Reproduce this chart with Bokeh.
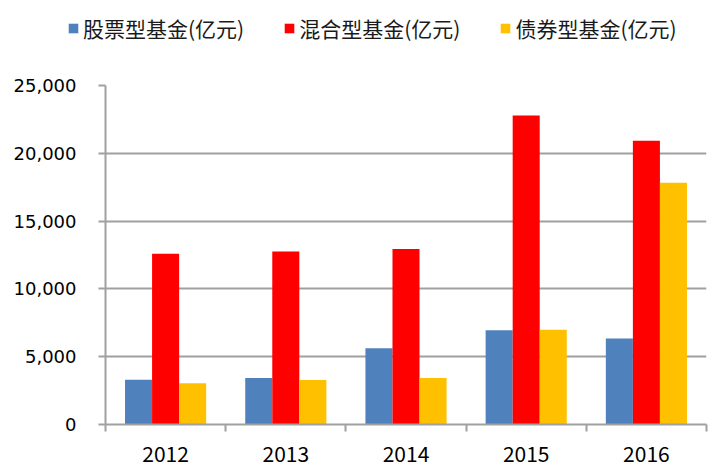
from bokeh.plotting import figure
from bokeh.layouts import column
from bokeh.models import (ColumnDataSource, Range1d, FixedTicker, NumeralTickFormatter,
                          Legend, LegendItem)
from bokeh.transform import dodge
from bokeh.embed import file_html
from bokeh.resources import INLINE

years = ["2012", "2013", "2014", "2015", "2016"]
stock = [3300, 3420, 5620, 6950, 6350]
mixed = [12600, 12750, 12950, 22780, 20930]
bond = [3050, 3280, 3420, 6990, 17830]
series_names = ["股票型基金(亿元)", "混合型基金(亿元)", "债券型基金(亿元)"]
colors = ["#4F81BD", "#FF0000", "#FFC000"]
y_ticks = [0, 5000, 10000, 15000, 20000, 25000]

xc = [i + 0.5 for i in range(len(years))]
src = ColumnDataSource(dict(x=xc, stock=stock, mixed=mixed, bond=bond))

TOTAL_W = 721
LEG_H = 50

# ---- main chart ----
p = figure(output_backend="svg", toolbar_location=None,
           frame_width=601, frame_height=339,
           min_border_left=105, min_border_right=15, min_border_top=85 - LEG_H,
           min_border_bottom=48,
           x_range=Range1d(0, len(years)), y_range=Range1d(0, 25000))
p.outline_line_color = None
p.background_fill_color = "white"

bw = 0.225
p.vbar(x=dodge("x", -bw, range=p.x_range), top="stock", width=bw, source=src,
       fill_color=colors[0], line_color=None)
p.vbar(x=dodge("x", 0, range=p.x_range), top="mixed", width=bw, source=src,
       fill_color=colors[1], line_color=None)
p.vbar(x=dodge("x", bw, range=p.x_range), top="bond", width=bw, source=src,
       fill_color=colors[2], line_color=None)

gray = "#A0A0A0"
p.yaxis.ticker = FixedTicker(ticks=y_ticks)
p.yaxis.formatter = NumeralTickFormatter(format="0,0")
p.yaxis.axis_line_color = gray
p.yaxis.axis_line_width = 2
p.yaxis.major_tick_line_color = gray
p.yaxis.major_tick_line_width = 2
p.yaxis.major_tick_in = 0
p.yaxis.major_tick_out = 7
p.yaxis.minor_tick_line_color = None
p.yaxis.major_label_text_font = "DejaVu Sans"
p.yaxis.major_label_text_font_size = "18px"
p.yaxis.major_label_text_color = "#000000"
p.yaxis.major_label_standoff = 22

p.xaxis.ticker = FixedTicker(ticks=xc, minor_ticks=list(range(len(years) + 1)))
p.xaxis.major_label_overrides = {x: y for x, y in zip(xc, years)}
p.xaxis.axis_line_color = gray
p.xaxis.axis_line_width = 2
p.xaxis.major_tick_line_color = None
p.xaxis.major_tick_in = 0
p.xaxis.major_tick_out = 0
p.xaxis.minor_tick_line_color = gray
p.xaxis.minor_tick_line_width = 2
p.xaxis.minor_tick_in = 0
p.xaxis.minor_tick_out = 7
p.xaxis.major_label_text_font = "Noto Sans CJK SC"
p.xaxis.major_label_text_font_size = "21px"
p.xaxis.major_label_text_color = "#000000"
p.xaxis.major_label_standoff = 14

p.xgrid.grid_line_color = None
p.ygrid.ticker = FixedTicker(ticks=y_ticks)
p.ygrid.grid_line_color = gray
p.ygrid.grid_line_width = 2

# ---- legend strip ----
lg = figure(output_backend="svg", toolbar_location=None,
            frame_width=TOTAL_W, frame_height=LEG_H,
            min_border=0, x_range=Range1d(0, 1), y_range=Range1d(0, 1))
lg.axis.visible = False
lg.grid.grid_line_color = None
lg.outline_line_color = None
# legend-only proxies, placed outside the visible range
rs = [lg.vbar(x=[5], top=[1], width=0.1, fill_color=c, line_color=None) for c in colors]

legend = Legend(items=[LegendItem(label=n, renderers=[r]) for n, r in zip(series_names, rs)],
                orientation="horizontal", location=(67, 7),
                glyph_width=12, glyph_height=12, label_standoff=4, spacing=39,
                padding=0, margin=0, border_line_color=None, background_fill_alpha=0,
                label_text_font="Noto Sans CJK SC", label_text_font_size="21px",
                label_text_color="#1a1a1a")
lg.add_layout(legend, "center")

layout = column(lg, p, spacing=0)
open("out.html", "w").write(file_html(layout, INLINE))
